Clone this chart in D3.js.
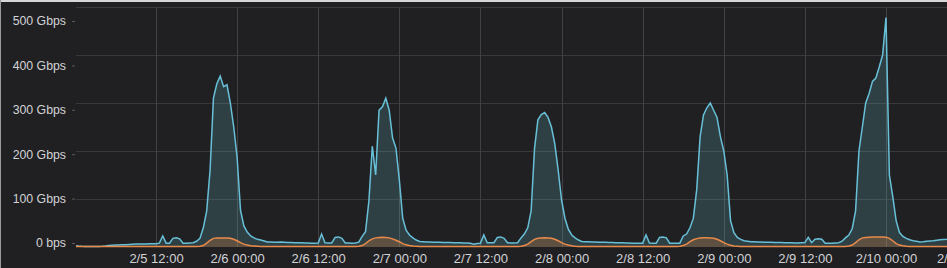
<!doctype html>
<html lang="en">
  <head>
    <meta charset="UTF-8" />
    <title>Traffic</title>
    <script src="https://d3js.org/d3.v7.min.js"></script>
    <style>
      body {
        margin: 0;
        background: #202023;
      }
      svg {
        display: block;
        font-family: Roboto, 'Noto Sans', sans-serif;
      }
      .axis text {
        fill: #d2d3d5;
      }
      .axis .domain {
        display: none;
      }
    </style>
  </head>
  <body>
    <svg width="947" height="268"></svg>
    <script>
      // samples every 30 minutes, starting 2/5 00:00
      const startTime = new Date(2024, 1, 5, 0, 0);
      const stepMinutes = 30;

      // inbound traffic (Gbps), blue series
      const inbound = [
        3, 2, 1.5, 1.2, 1, 1, 1, 1.2, 1.5, 2, 3, 3.5, 4, 4, 4.5, 4.5, 5, 5.5, 6, 6, 6.5, 6.5, 7, 7,
        7, 8, 23, 8, 8, 18, 19, 17, 8, 8, 8.5, 9, 12, 18, 40, 75, 160, 310, 340, 356, 334, 338, 300, 250,
        187, 77, 44, 31, 23, 19, 16, 14.5, 12.5, 10.5, 10.5, 10, 10, 10.5, 10, 9.5, 9.5, 9, 9, 9, 8.5, 8.5, 8, 8,
        8.5, 27, 9, 8.5, 8.5, 20, 21, 18, 8.5, 8.5, 8, 8.5, 10, 22, 32, 96, 210, 150, 285, 292, 310, 285, 227, 206,
        140, 60, 35, 25, 19, 14.5, 11.5, 11, 10.5, 10.5, 10, 10, 10, 9.5, 9.5, 9.5, 9, 9, 9, 8.5, 8.5, 8, 6, 7.5,
        8, 25, 9, 9, 9, 20, 21, 18, 9, 8.5, 8.5, 9, 19, 27, 40, 75, 205, 265, 276, 280, 270, 250, 215, 160,
        98, 60, 37, 25, 19, 14.5, 11.5, 11, 11, 10.5, 10.5, 10, 10, 10, 9.5, 9.5, 9, 9, 9, 8.5, 8.5, 8, 8, 8,
        8, 25, 8.5, 8, 8, 20, 21, 19, 8, 8, 8, 8, 23, 27, 40, 60, 120, 230, 275, 290, 300, 285, 270, 230,
        200, 150, 55, 30, 20, 16, 13, 12, 11, 11, 10.5, 10.5, 10, 10, 10, 9.5, 9.5, 9.5, 9, 9, 9, 8.5, 8.5, 9,
        9.5, 20, 9, 16, 17, 16, 8, 8, 8, 8.5, 9, 12, 19, 25, 38, 75, 200, 250, 300, 320, 345, 352, 375, 400,
        478, 150, 105, 55, 30, 22, 18, 15, 13, 12, 10.5, 11, 12, 12.5, 13, 14, 15, 15.5, 16, 17,
      ];

      // outbound traffic (Gbps), orange series
      const outbound = [
        1, 1, 1, 1, 1, 1, 1, 1, 1, 1, 1, 1, 1, 1, 1, 1, 1, 1, 1, 1, 1, 1, 1, 1,
        1, 1, 1, 1, 1, 1, 1, 1, 1, 1, 1, 1, 1, 1.5, 3, 8, 14, 18, 19, 19, 19, 18.5, 18, 16,
        13, 9, 6, 4, 2.5, 2, 1.5, 1, 1, 1, 1, 1, 1, 1, 1, 1, 1, 1, 1, 1, 1, 1, 1, 1,
        1, 1, 1, 1, 1, 1, 1, 1, 1, 1, 1, 1, 1.5, 3, 7, 13, 17, 19, 20, 20.5, 20, 19, 17, 14,
        11, 7, 4.5, 3, 2, 1.5, 1, 1, 1, 1, 1, 1, 1, 1, 1, 1, 1, 1, 1, 1, 1, 1, 1, 1,
        1, 1, 1, 1, 1, 1, 1, 1, 1, 1, 1, 1, 1.5, 3, 6, 11, 16, 18, 19, 19.5, 19, 18, 16, 13,
        9, 6, 4, 2.5, 1.5, 1, 1, 1, 1, 1, 1, 1, 1, 1, 1, 1, 1, 1, 1, 1, 1, 1, 1, 1,
        1, 1, 1, 1, 1, 1, 1, 1, 1, 1, 1, 1.5, 3, 6, 11, 15, 17.5, 19, 19.5, 19.5, 19, 18, 16, 13,
        9, 6, 3.5, 2, 1.5, 1, 1, 1, 1, 1, 1, 1, 1, 1, 1, 1, 1, 1, 1, 1, 1, 1, 1, 1,
        1, 1, 1, 1, 1, 1, 1, 1, 1, 1, 1, 1, 1, 2, 4, 9, 15, 19, 20, 20.5, 21, 21, 21, 21,
        20.5, 18, 13, 7, 4, 2.5, 1.5, 1, 1, 1, 1, 1, 1, 1, 1, 1, 1, 1, 1, 1,
      ];

      const yTicks = [0, 100, 200, 300, 400, 500];
      const xTicks = [
        new Date(2024, 1, 5, 12), new Date(2024, 1, 6, 0), new Date(2024, 1, 6, 12),
        new Date(2024, 1, 7, 0), new Date(2024, 1, 7, 12), new Date(2024, 1, 8, 0),
        new Date(2024, 1, 8, 12), new Date(2024, 1, 9, 0), new Date(2024, 1, 9, 12),
        new Date(2024, 1, 10, 0), new Date(2024, 1, 10, 12),
      ];

      const svg = d3.select('svg');
      const left = 76;
      const right = 947;

      const series = inbound.map((v, i) => ({
        t: new Date(startTime.getTime() + i * stepMinutes * 60000),
        a: v,
        b: outbound[i],
      }));

      // time scale: 2/5 12:00 sits at x=156, 2/10 00:00 at x=886
      const x = d3
        .scaleTime()
        .domain([xTicks[0], xTicks[9]])
        .range([156, 886]);

      // plotting / grid scale
      const y = d3.scaleLinear().domain([0, 500]).range([247, 7]);
      // labels sit slightly off the grid in the original
      const yLabel = d3.scaleLinear().domain([0, 500]).range([243, 21]);

      svg
        .append('defs')
        .append('clipPath')
        .attr('id', 'plot')
        .append('rect')
        .attr('x', left)
        .attr('y', 0)
        .attr('width', right - left)
        .attr('height', 250);

      // grid
      const grid = svg.append('g');
      grid
        .selectAll('.hgrid')
        .data(yTicks.slice(1))
        .enter()
        .append('line')
        .attr('x1', left)
        .attr('x2', right)
        .attr('y1', (d) => y(d) + 0.5)
        .attr('y2', (d) => y(d) + 0.5)
        .attr('stroke', '#39393c')
        .attr('stroke-width', 1);

      grid
        .selectAll('.vgrid')
        .data(xTicks)
        .enter()
        .append('line')
        .attr('x1', (d) => Math.round(x(d)) + 0.5)
        .attr('x2', (d) => Math.round(x(d)) + 0.5)
        .attr('y1', y(500))
        .attr('y2', y(0))
        .attr('stroke', '#414144')
        .attr('stroke-width', 1);

      const plot = svg.append('g').attr('clip-path', 'url(#plot)');

      const areaA = d3.area().x((d) => x(d.t)).y0(y(0)).y1((d) => y(d.a));
      const lineA = d3.line().x((d) => x(d.t)).y((d) => y(d.a));
      const areaB = d3.area().x((d) => x(d.t)).y0(y(0)).y1((d) => y(d.b));
      const lineB = d3.line().x((d) => x(d.t)).y((d) => y(d.b));

      plot
        .append('path')
        .datum(series)
        .attr('d', areaA)
        .attr('fill', '#6ed0e0')
        .attr('fill-opacity', 0.18);

      plot
        .append('path')
        .datum(series)
        .attr('d', areaB)
        .attr('fill', '#ef843c')
        .attr('fill-opacity', 0.25);

      plot
        .append('path')
        .datum(series)
        .attr('d', lineA)
        .attr('fill', 'none')
        .attr('stroke', '#68c0d8')
        .attr('stroke-width', 1.5);

      plot
        .append('path')
        .datum(series)
        .attr('d', lineB)
        .attr('fill', 'none')
        .attr('stroke', '#ea8a4a')
        .attr('stroke-width', 1.5);

      // y axis
      svg
        .append('g')
        .attr('class', 'axis')
        .attr('transform', `translate(${left - 1},0)`)
        .call(
          d3
            .axisLeft(yLabel)
            .tickValues(yTicks)
            .tickSize(3)
            .tickPadding(6)
            .tickFormat((d) => (d === 0 ? '0 bps' : d + ' Gbps')),
        )
        .call((g) => g.selectAll('.tick line').attr('stroke', '#5a5a5e'))
        .selectAll('text')
        .style('font-size', '12.3px');

      // x axis
      svg
        .append('g')
        .attr('class', 'axis')
        .attr('transform', `translate(0,${y(0)})`)
        .call(
          d3
            .axisBottom(x)
            .tickValues(xTicks)
            .tickSize(0)
            .tickPadding(7)
            .tickFormat(d3.timeFormat('%-m/%-d %H:%M')),
        )
        .selectAll('text')
        .style('font-size', '13px');

      // thin light frame along the top and left edges of the screenshot
      svg
        .append('rect')
        .attr('x', 0)
        .attr('y', 0)
        .attr('width', 947)
        .attr('height', 2)
        .attr('fill', '#d6d6d6');
      svg
        .append('rect')
        .attr('x', 0)
        .attr('y', 0)
        .attr('width', 1)
        .attr('height', 268)
        .attr('fill', '#9a9a9a');
    </script>
  </body>
</html>
